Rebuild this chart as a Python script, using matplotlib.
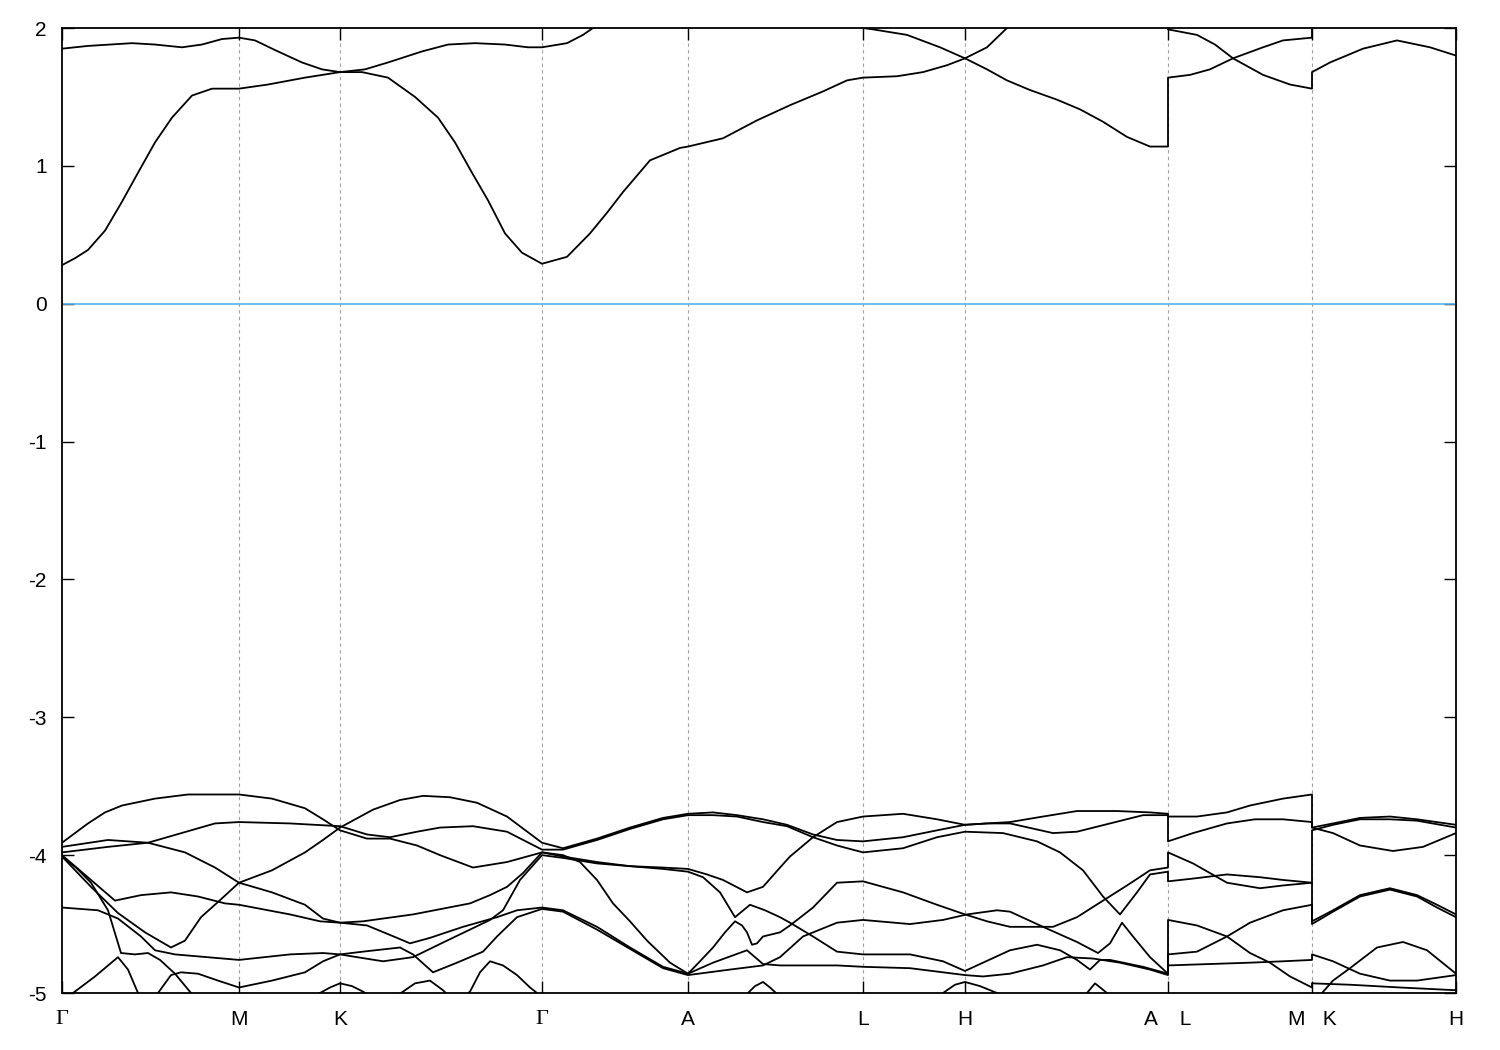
import matplotlib.pyplot as plt

# high-symmetry points along the k-path
kticks = [0.000, 0.177, 0.278, 0.480, 0.626, 0.801, 0.903, 1.106, 1.250, 1.394]
klabels = ['Γ', 'M', 'K', 'Γ', 'A', 'L', 'H', 'A    L', 'M   K', 'H']

# bands as (k, E[eV]); values outside [-5, 2] are clipped
cb1 = [(0.000, 0.28), (0.013, 0.33), (0.026, 0.39), (0.043, 0.53), (0.060, 0.74), (0.076, 0.95),
       (0.093, 1.17), (0.110, 1.35), (0.130, 1.51), (0.150, 1.56), (0.177, 1.56),
       (0.206, 1.59), (0.243, 1.64), (0.278, 1.68),
       (0.300, 1.68), (0.326, 1.64), (0.353, 1.50), (0.376, 1.35), (0.393, 1.17), (0.410, 0.95),
       (0.426, 0.75), (0.443, 0.51), (0.460, 0.37), (0.480, 0.29),
       (0.505, 0.34), (0.528, 0.51), (0.545, 0.66), (0.561, 0.81), (0.588, 1.04), (0.618, 1.13), (0.626, 1.14),
       (0.661, 1.20), (0.695, 1.33), (0.728, 1.44), (0.761, 1.54), (0.785, 1.62), (0.801, 1.64),
       (0.835, 1.65), (0.861, 1.68), (0.885, 1.73), (0.903, 1.78),
       (0.925, 1.70), (0.945, 1.62), (0.968, 1.55), (0.995, 1.48), (1.018, 1.41), (1.041, 1.32),
       (1.065, 1.21), (1.088, 1.14), (1.106, 1.14),
       (1.106, 1.64), (1.128, 1.66), (1.148, 1.70), (1.171, 1.78), (1.201, 1.66), (1.228, 1.59), (1.250, 1.56),
       (1.250, 1.68), (1.268, 1.75), (1.301, 1.85), (1.335, 1.91), (1.368, 1.86), (1.394, 1.80)]

cb2 = [(0.000, 1.85), (0.026, 1.87), (0.070, 1.89), (0.093, 1.88), (0.120, 1.86), (0.140, 1.88),
       (0.160, 1.92), (0.177, 1.93),
       (0.193, 1.91), (0.213, 1.84), (0.240, 1.75), (0.260, 1.70), (0.278, 1.68),
       (0.303, 1.70), (0.326, 1.75), (0.360, 1.83), (0.386, 1.88), (0.413, 1.89), (0.443, 1.88),
       (0.466, 1.86), (0.480, 1.86),
       (0.505, 1.89), (0.521, 1.95), (0.531, 2.00), (0.560, 2.15), (0.626, 2.35),
       (0.700, 2.30), (0.760, 2.12), (0.801, 2.00),
       (0.811, 1.99), (0.845, 1.95), (0.878, 1.86), (0.903, 1.78),
       (0.925, 1.86), (0.945, 2.00), (0.990, 2.20), (1.106, 2.35),
       (1.106, 1.99), (1.135, 1.95), (1.153, 1.88), (1.171, 1.78), (1.201, 1.86), (1.221, 1.91), (1.250, 1.93),
       (1.250, 2.25), (1.330, 2.30), (1.394, 2.25)]

vb_a = [(0.000, -3.91), (0.013, -3.84), (0.026, -3.77), (0.043, -3.69), (0.060, -3.64), (0.093, -3.59),
        (0.126, -3.56), (0.177, -3.56),
        (0.210, -3.59), (0.243, -3.66), (0.261, -3.74), (0.278, -3.82),
        (0.305, -3.88), (0.328, -3.88), (0.355, -3.93), (0.378, -4.00), (0.411, -4.09), (0.445, -4.05), (0.480, -3.98),
        (0.501, -4.00), (0.518, -4.05), (0.535, -4.18), (0.551, -4.35), (0.568, -4.48), (0.585, -4.62),
        (0.608, -4.78), (0.626, -4.86),
        (0.638, -4.77), (0.651, -4.67), (0.663, -4.56), (0.673, -4.48), (0.680, -4.51), (0.685, -4.56),
        (0.690, -4.65), (0.695, -4.64), (0.701, -4.59), (0.718, -4.56), (0.728, -4.51), (0.751, -4.38),
        (0.775, -4.20), (0.801, -4.19),
        (0.841, -4.27), (0.875, -4.36), (0.903, -4.43), (0.925, -4.48), (0.948, -4.52),
        (0.991, -4.52), (1.015, -4.45), (1.041, -4.33), (1.065, -4.22), (1.088, -4.11), (1.106, -4.09),
        (1.106, -3.98), (1.131, -4.06), (1.148, -4.13), (1.165, -4.20), (1.198, -4.24), (1.221, -4.22), (1.250, -4.20),
        (1.250, -3.82), (1.271, -3.78), (1.298, -3.74), (1.328, -3.74), (1.355, -3.75), (1.394, -3.80)]

vb_b = [(0.000, -3.94), (0.046, -3.89), (0.086, -3.91), (0.123, -3.98), (0.153, -4.09), (0.177, -4.20),
        (0.210, -4.27), (0.243, -4.36), (0.261, -4.46), (0.278, -4.49),
        (0.301, -4.48), (0.351, -4.43), (0.408, -4.35), (0.428, -4.29), (0.445, -4.23), (0.461, -4.13), (0.480, -3.98),
        (0.501, -4.01), (0.535, -4.05), (0.568, -4.08), (0.601, -4.09), (0.626, -4.10),
        (0.645, -4.14), (0.661, -4.18), (0.685, -4.27), (0.701, -4.23), (0.718, -4.09), (0.728, -4.01),
        (0.751, -3.87), (0.775, -3.76), (0.801, -3.72),
        (0.841, -3.70), (0.875, -3.74), (0.903, -3.78),
        (0.925, -3.77), (0.948, -3.77), (0.991, -3.84), (1.015, -3.83), (1.048, -3.77), (1.081, -3.71), (1.106, -3.71),
        (1.106, -3.90), (1.131, -3.84), (1.165, -3.77), (1.193, -3.74), (1.221, -3.74), (1.250, -3.76),
        (1.250, -3.80), (1.271, -3.77), (1.298, -3.73), (1.328, -3.72), (1.355, -3.74), (1.394, -3.78)]

vb_c = [(0.000, -3.98), (0.046, -3.94), (0.086, -3.91), (0.129, -3.82), (0.153, -3.77), (0.177, -3.76),
        (0.228, -3.77), (0.278, -3.79),
        (0.305, -3.85), (0.328, -3.87), (0.355, -3.83), (0.378, -3.80), (0.411, -3.79), (0.445, -3.83), (0.480, -3.96),
        (0.501, -3.96), (0.535, -3.89), (0.568, -3.81), (0.601, -3.74), (0.626, -3.71),
        (0.651, -3.71), (0.675, -3.72), (0.701, -3.76), (0.725, -3.79), (0.751, -3.87), (0.775, -3.93), (0.801, -3.98),
        (0.841, -3.95), (0.875, -3.87), (0.903, -3.83), (0.941, -3.84), (0.958, -3.87),
        (0.975, -3.90), (0.998, -3.98), (1.021, -4.11), (1.041, -4.30), (1.058, -4.43), (1.075, -4.27),
        (1.088, -4.14), (1.106, -4.12),
        (1.106, -4.19), (1.131, -4.17), (1.165, -4.14), (1.198, -4.16), (1.221, -4.18), (1.250, -4.20),
        (1.250, -4.48), (1.271, -4.40), (1.298, -4.29), (1.328, -4.24), (1.355, -4.29), (1.375, -4.36), (1.394, -4.43)]

vb_d = [(0.000, -4.00), (0.029, -4.18), (0.053, -4.33), (0.079, -4.29), (0.109, -4.27), (0.136, -4.30),
        (0.163, -4.35), (0.177, -4.36),
        (0.228, -4.43), (0.258, -4.48), (0.278, -4.49),
        (0.305, -4.51), (0.335, -4.60), (0.348, -4.64), (0.368, -4.60), (0.401, -4.52), (0.435, -4.45),
        (0.455, -4.40), (0.480, -4.38),
        (0.501, -4.40), (0.535, -4.52), (0.568, -4.67), (0.601, -4.81), (0.626, -4.86),
        (0.651, -4.78), (0.685, -4.69), (0.701, -4.79), (0.718, -4.80), (0.741, -4.80), (0.775, -4.80), (0.801, -4.81),
        (0.848, -4.82), (0.881, -4.85), (0.903, -4.87), (0.921, -4.88), (0.948, -4.86), (0.981, -4.80),
        (1.005, -4.74), (1.031, -4.75), (1.058, -4.78), (1.088, -4.83), (1.106, -4.87),
        (1.106, -4.80), (1.188, -4.78), (1.221, -4.77), (1.250, -4.76),
        (1.250, -4.72), (1.271, -4.77), (1.298, -4.86), (1.328, -4.91), (1.355, -4.91), (1.394, -4.87)]

vb_e = [(0.000, -4.01), (0.029, -4.23), (0.056, -4.42), (0.083, -4.56), (0.109, -4.67), (0.123, -4.62),
        (0.139, -4.45), (0.156, -4.34), (0.177, -4.20),
        (0.210, -4.11), (0.243, -3.98), (0.261, -3.89), (0.278, -3.80),
        (0.311, -3.67), (0.338, -3.60), (0.361, -3.57), (0.388, -3.58), (0.415, -3.62), (0.445, -3.72), (0.480, -3.91),
        (0.501, -3.95), (0.535, -3.88), (0.568, -3.80), (0.601, -3.73), (0.626, -3.70),
        (0.651, -3.69), (0.675, -3.71), (0.701, -3.74), (0.725, -3.78), (0.751, -3.85), (0.775, -3.89), (0.801, -3.90),
        (0.841, -3.87), (0.875, -3.82), (0.903, -3.78),
        (0.925, -3.77), (0.948, -3.76), (0.981, -3.72), (1.015, -3.68), (1.055, -3.68), (1.088, -3.69), (1.106, -3.70),
        (1.106, -3.72), (1.135, -3.72), (1.165, -3.69), (1.188, -3.64), (1.221, -3.59), (1.250, -3.56),
        (1.250, -3.80), (1.271, -3.84), (1.298, -3.93), (1.331, -3.97), (1.361, -3.94), (1.394, -3.84)]

vb_g = [(0.000, -4.38), (0.036, -4.40), (0.056, -4.46), (0.079, -4.59), (0.093, -4.69), (0.113, -4.72), (0.177, -4.76),
        (0.228, -4.72), (0.261, -4.71), (0.278, -4.72),
        (0.301, -4.70), (0.338, -4.67), (0.351, -4.72), (0.371, -4.85), (0.395, -4.78), (0.421, -4.70),
        (0.435, -4.59), (0.455, -4.45), (0.480, -4.39),
        (0.501, -4.41), (0.535, -4.54), (0.568, -4.68), (0.601, -4.82), (0.626, -4.87),
        (0.668, -4.83), (0.701, -4.80), (0.718, -4.74), (0.741, -4.59), (0.775, -4.49), (0.801, -4.47),
        (0.848, -4.50), (0.881, -4.47), (0.905, -4.43), (0.935, -4.40), (0.948, -4.41), (0.981, -4.52),
        (1.015, -4.63), (1.036, -4.71), (1.048, -4.64), (1.060, -4.49), (1.071, -4.59), (1.088, -4.74), (1.106, -4.86),
        (1.106, -4.47), (1.135, -4.51), (1.165, -4.59), (1.188, -4.71), (1.208, -4.78), (1.228, -4.88), (1.250, -4.96),
        (1.250, -4.93), (1.288, -4.94), (1.338, -4.96), (1.394, -4.98)]

vb_i = [(0.000, -5.34), (0.058, -5.23), (0.083, -5.08), (0.096, -5.00), (0.109, -4.87), (0.119, -4.85),
        (0.136, -4.86), (0.156, -4.91), (0.177, -4.96),
        (0.210, -4.91), (0.243, -4.85), (0.261, -4.77), (0.278, -4.72),
        (0.295, -4.74), (0.321, -4.77), (0.351, -4.74), (0.385, -4.62), (0.408, -4.54), (0.428, -4.47),
        (0.441, -4.40), (0.458, -4.18), (0.480, -4.00),
        (0.501, -4.02), (0.535, -4.06), (0.568, -4.08), (0.601, -4.10), (0.626, -4.12), (0.641, -4.16),
        (0.658, -4.27), (0.673, -4.45), (0.688, -4.36), (0.703, -4.40), (0.718, -4.45), (0.728, -4.49),
        (0.751, -4.59), (0.775, -4.70), (0.801, -4.72),
        (0.848, -4.72), (0.881, -4.77), (0.903, -4.84), (0.921, -4.78), (0.948, -4.69), (0.975, -4.65),
        (0.998, -4.69), (1.015, -4.76), (1.028, -4.83), (1.038, -4.76), (1.048, -4.76), (1.081, -4.81), (1.106, -4.86),
        (1.106, -4.72), (1.135, -4.70), (1.165, -4.59), (1.188, -4.49), (1.221, -4.40), (1.250, -4.36),
        (1.250, -4.50), (1.271, -4.41), (1.298, -4.30), (1.328, -4.25), (1.355, -4.30), (1.375, -4.38), (1.394, -4.45)]

# deeper bands that only poke up above -5
deep_f = [(0.000, -4.01), (0.014, -4.09), (0.029, -4.20), (0.046, -4.40), (0.059, -4.71), (0.073, -4.72),
          (0.086, -4.71), (0.098, -4.76), (0.113, -4.86), (0.129, -5.00), (0.153, -5.16), (0.177, -5.23),
          (0.228, -5.12), (0.258, -5.00), (0.268, -4.96), (0.278, -4.93), (0.290, -4.95), (0.301, -4.99),
          (0.321, -5.08), (0.341, -4.99), (0.353, -4.93), (0.368, -4.91), (0.381, -4.98), (0.394, -5.07),
          (0.408, -4.99), (0.418, -4.85), (0.428, -4.77), (0.441, -4.80), (0.455, -4.87), (0.468, -4.96),
          (0.475, -5.00), (0.480, -5.04),
          (0.538, -5.19), (0.626, -5.27), (0.678, -5.05), (0.686, -5.00), (0.693, -4.95), (0.701, -4.92),
          (0.708, -4.96), (0.714, -5.00), (0.738, -5.12), (0.801, -5.23),
          (0.868, -5.08), (0.881, -5.00), (0.893, -4.94), (0.903, -4.92), (0.918, -4.95), (0.935, -5.00),
          (0.968, -5.12), (1.018, -5.05), (1.025, -5.00), (1.033, -4.93), (1.045, -5.00), (1.068, -5.12), (1.106, -5.19),
          (1.188, -5.19), (1.250, -5.12), (1.260, -5.00), (1.271, -4.91), (1.288, -4.82), (1.315, -4.67),
          (1.341, -4.63), (1.365, -4.69), (1.394, -4.86)]

deep_h = [(0.000, -5.08), (0.011, -5.00), (0.033, -4.88), (0.056, -4.74), (0.066, -4.83), (0.076, -5.00),
          (0.088, -5.12), (0.115, -5.27)]

bands = [cb1, cb2, vb_a, vb_b, vb_c, vb_d, vb_e, vb_g, vb_i, deep_f, deep_h]

plt.rcParams['font.family'] = ['Liberation Sans', 'DejaVu Sans']
plt.rcParams['axes.unicode_minus'] = False

fig = plt.figure(figsize=(15, 10.5), dpi=100)
ax = fig.add_axes([62 / 1500, 57 / 1050, 1394 / 1500, 965 / 1050])

# dashed lines at the high-symmetry points, Fermi level in blue
for x in kticks[1:-1]:
    ax.axvline(x, color='#a0a0a0', lw=0.8, ls=(0, (3, 3)), zorder=1)
ax.axhline(0, color='#56b4e9', lw=1.2, zorder=2)

for b in bands:
    k, e = zip(*b)
    ax.plot(k, e, color='black', lw=1.3, zorder=3)

ax.set_xlim(kticks[0], kticks[-1])
ax.set_ylim(-5, 2)
ax.set_xticks(kticks)
ax.set_xticklabels(klabels)
ax.set_yticks(range(-5, 3))
ax.tick_params(direction='in', length=8.5, width=1.0, top=True, right=True, labelsize=15)
ax.tick_params(axis='y', pad=11)
ax.tick_params(axis='x', pad=12)
for lab in ax.get_xticklabels():
    if lab.get_text() == 'Γ':
        lab.set_fontfamily('Liberation Serif')
        lab.set_fontsize(16)
for s in ax.spines.values():
    s.set_linewidth(1.3)

fig.savefig('out.png', dpi=100)
